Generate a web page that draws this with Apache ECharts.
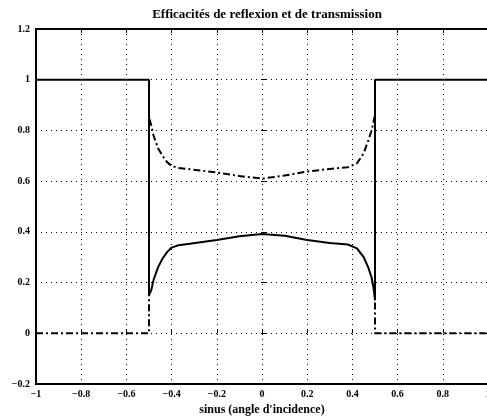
<!DOCTYPE html>
<html lang="fr">
  <head>
    <meta charset="utf-8" />
    <script type="text/javascript" src="https://cdn.jsdelivr.net/npm/echarts@6/dist/echarts.min.js"></script>
    <title>Efficacités</title>
    <style>
      html, body { margin: 0; padding: 0; background: #fff; }
      #chart { width: 487px; height: 419px; }
    </style>
  </head>
  <body>
    <div id="chart"></div>
    <script>
      // reflexion (trait plein)
      var rX = [-1, -0.5, -0.5, -0.49, -0.48, -0.46, -0.44, -0.42, -0.40, -0.37, -0.32, -0.2, -0.1, 0,
        0.1, 0.2, 0.3, 0.38, 0.42, 0.45, 0.47, 0.485, 0.495, 0.5, 0.5, 1]
      var rY = [1, 1, 0.15, 0.17, 0.21, 0.26, 0.295, 0.32, 0.338, 0.347, 0.353, 0.368, 0.383, 0.392,
        0.385, 0.368, 0.356, 0.35, 0.335, 0.30, 0.26, 0.22, 0.17, 0.13, 1, 1]
      // transmission (trait mixte)
      var tX = [-1, -0.5, -0.5, -0.49, -0.48, -0.46, -0.44, -0.42, -0.40, -0.37, -0.32, -0.2, -0.1, 0,
        0.1, 0.2, 0.3, 0.38, 0.42, 0.45, 0.47, 0.485, 0.495, 0.5, 0.5, 1]
      var tY = [0, 0, 0.85, 0.82, 0.78, 0.73, 0.70, 0.675, 0.66, 0.652, 0.647, 0.634, 0.62, 0.61,
        0.622, 0.638, 0.648, 0.655, 0.67, 0.71, 0.76, 0.80, 0.84, 0.86, 0, 0]
      var titre = 'Efficacités de reflexion et de transmission'
      var xNom = 'sinus (angle d\'incidence)'

      function pairs (xs, ys) {
        return xs.map(function (x, i) { return [x, ys[i]] })
      }
      function fmt (v) {
        var s = String(Math.round(v * 10) / 10)
        return s.replace('-', '\u2212')
      }

      var font = "'Liberation Serif', 'DejaVu Serif', serif"
      var chart = echarts.init(document.getElementById('chart'))
      chart.setOption({
        animation: false,
        title: {
          text: titre,
          left: 262,
          top: 3,
          textAlign: 'center',
          textStyle: { fontFamily: font, fontWeight: 'bold', fontSize: 13, color: '#000' }
        },
        grid: {
          left: 36, top: 29, width: 452, bottom: 35,
          outerBoundsMode: 'none', containLabel: false,
          show: true, borderColor: '#000', borderWidth: 2, backgroundColor: '#fff'
        },
        xAxis: [{
          type: 'value', min: -1, max: 1, interval: 0.2,
          name: xNom, nameLocation: 'middle', nameGap: 20,
          nameTextStyle: { fontFamily: font, fontWeight: 'bold', fontSize: 12, color: '#000' },
          axisLine: { show: false },
          axisTick: { inside: true, length: 4, lineStyle: { color: '#000' } },
          axisLabel: { margin: 5, fontFamily: font, fontWeight: 'bold', fontSize: 10, color: '#000', formatter: fmt },
          splitLine: { lineStyle: { color: '#000', type: [1, 4], width: 1 } }
        }, {
          type: 'value', min: -1, max: 1, interval: 0.2, position: 'top',
          axisLine: { show: false },
          axisTick: { inside: true, length: 4, lineStyle: { color: '#000' } },
          axisLabel: { show: false },
          splitLine: { show: false }
        }],
        yAxis: {
          type: 'value', min: -0.2, max: 1.2, interval: 0.2,
          axisLine: { show: false },
          axisTick: { inside: true, length: 4, lineStyle: { color: '#000' } },
          axisLabel: { margin: 6, fontFamily: font, fontWeight: 'bold', fontSize: 10, color: '#000', formatter: fmt },
          splitLine: { lineStyle: { color: '#000', type: [1, 4], width: 1 } }
        },
        series: [{
          type: 'line', name: 'transmission', data: pairs(tX, tY),
          symbol: 'none', smooth: false,
          lineStyle: { color: '#000', width: 2, type: [7, 3, 2, 3] }
        }, {
          type: 'line', name: 'reflexion', data: pairs(rX, rY),
          symbol: 'none', smooth: false,
          lineStyle: { color: '#000', width: 2 }
        }]
      })
    </script>
  </body>
</html>
